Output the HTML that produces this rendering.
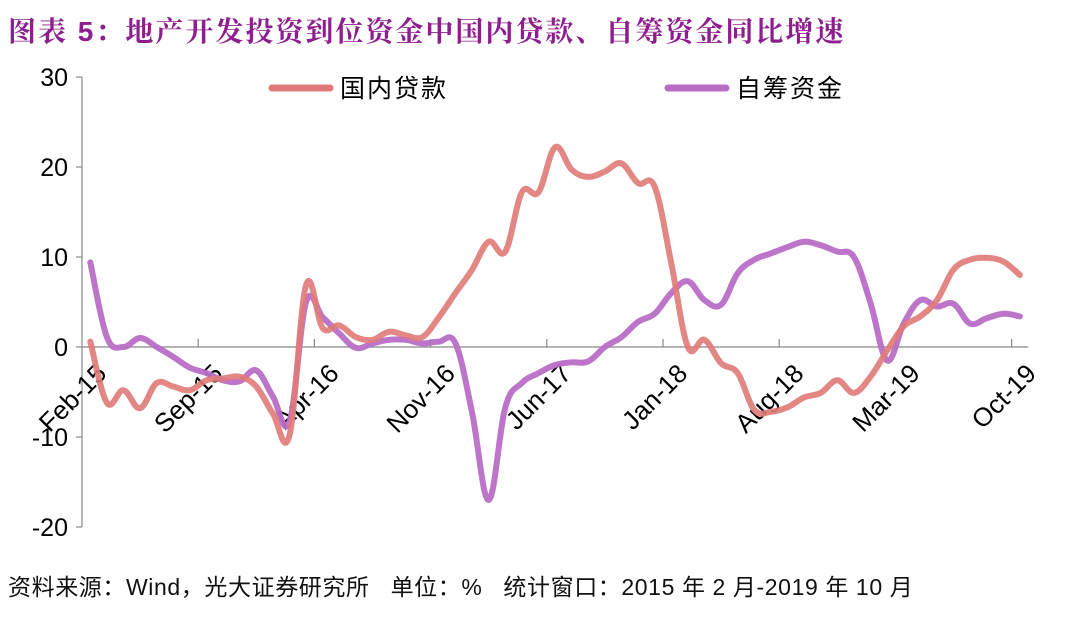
<!DOCTYPE html>
<html><head><meta charset="utf-8">
<style>
html,body{margin:0;padding:0;background:#fff;}
body{width:1080px;height:619px;overflow:hidden;position:relative;font-family:"Liberation Sans","Noto Sans CJK SC",sans-serif;}
#title{position:absolute;left:8px;top:10px;font-size:28px;font-weight:bold;color:#8e1e8e;font-family:"Liberation Sans","Noto Serif CJK SC","Noto Sans CJK SC",sans-serif;letter-spacing:2px;white-space:nowrap;}
#footer{position:absolute;left:8px;top:568px;font-size:23px;color:#111;font-family:"Liberation Sans","Noto Sans CJK SC",sans-serif;white-space:nowrap;letter-spacing:0.6px;}
</style></head><body>
<div id="title">图表 5：地产开发投资到位资金中国内贷款、自筹资金同比增速</div>
<svg id="chart" width="1080" height="619" style="position:absolute;left:0;top:0"></svg>
<div id="footer">资料来源：Wind，光大证券研究所&nbsp;&nbsp;&nbsp;单位：%&nbsp;&nbsp;&nbsp;统计窗口：2015 年 2 月-2019 年 10 月</div>
<script>
const categories = (function(){const m=["Jan","Feb","Mar","Apr","May","Jun","Jul","Aug","Sep","Oct","Nov","Dec"];const a=[];for(let i=0;i<57;i++){const t=1+i;a.push(m[t%12]+"-"+(15+Math.floor(t/12)));}return a;})();
const loanValues = [0.6,-6.2,-4.8,-6.8,-4,-4.4,-4.8,-3.7,-3.5,-3.3,-4.4,-7.4,-9.8,6.9,2.1,2.4,1.1,0.8,1.7,1.3,1.1,3.3,6,8.6,11.7,10.6,17.2,17.2,22.2,19.7,18.9,19.5,20.4,18.2,17.8,9.3,0,0.8,-1.8,-2.9,-7,-7.2,-6.7,-5.6,-5.1,-3.7,-5.1,-3.3,-0.4,2.3,3.4,5.2,8.6,9.7,9.9,9.5,8.0];
const selfValues = [9.4,1.1,0,1,0,-1.1,-2.3,-2.9,-3.7,-3.8,-2.6,-5.5,-8.3,5,3.3,1.5,-0.1,0.4,0.8,0.8,0.4,0.6,0.4,-7.3,-17,-6.7,-4,-2.9,-2,-1.7,-1.6,0,1.1,2.8,3.7,6,7.3,5.2,4.7,8.2,9.7,10.4,11.1,11.7,11.3,10.6,10,4.9,-1.5,2.6,5.2,4.5,4.8,2.6,3.2,3.7,3.4];
const yTicks = [30,20,10,0,-10,-20];
const xTickIdx = [0,7,14,21,28,35,42,49,56];
const seriesNames = ["国内贷款","自筹资金"];

const NS="http://www.w3.org/2000/svg";
const svg=document.getElementById('chart');
const x0=82, step=16.6, yZero=347, yUnit=9;
const xBound=i=>x0+i*step;
const xc=i=>x0+(i+0.5)*step;
const y=v=>yZero-v*yUnit;
function mk(tag,attrs){const e=document.createElementNS(NS,tag);for(const k in attrs)e.setAttribute(k,attrs[k]);svg.appendChild(e);return e;}

let ax=mk('line',{x1:x0,y1:y(30),x2:x0,y2:y(-20),stroke:'#888','stroke-width':1.2});


yTicks.forEach(v=>{
  const t=mk('line',{x1:x0-6,y1:y(v),x2:x0,y2:y(v),stroke:'#888','stroke-width':1.2});
  
  
  const l=mk('text',{x:x0-14,y:y(v)+9,'text-anchor':'end','font-size':25,fill:'#000'});
  l.textContent=v;
  
  
});
let xa=mk('line',{x1:x0,y1:yZero,x2:xBound(57),y2:yZero,stroke:'#888','stroke-width':1.2});


xTickIdx.forEach(i=>{
  const tx=xBound(i);
  if(i>0){const t=mk('line',{x1:tx,y1:yZero-8,x2:tx,y2:yZero,stroke:'#888','stroke-width':1.2});
  
  }
  const lx=tx+26, ly=yZero+28;
  const l=mk('text',{x:lx,y:ly,'text-anchor':'end','font-size':26,fill:'#000',transform:`rotate(-45 ${lx} ${ly})`});
  l.textContent=categories[i];
  
  
});
function smoothPath(vals){
  const p=vals.map((v,i)=>[xc(i),y(v)]);
  let d=`M${p[0][0]},${p[0][1]}`;
  for(let i=0;i<p.length-1;i++){
    const a=p[i-1]||p[i],b=p[i],c=p[i+1],e=p[i+2]||c,t=0.18;
    d+=` C${b[0]+(c[0]-a[0])*t},${b[1]+(c[1]-a[1])*t} ${c[0]-(e[0]-b[0])*t},${c[1]-(e[1]-b[1])*t} ${c[0]},${c[1]}`;
  }
  return d;
}
const red='#e07a78', purple='#b86ec6';
const pl=mk('path',{d:smoothPath(selfValues),fill:'none',stroke:purple,'stroke-width':6,'stroke-linejoin':'round','stroke-linecap':'round','stroke-opacity':0.95});


const rl=mk('path',{d:smoothPath(loanValues),fill:'none',stroke:red,'stroke-width':6,'stroke-linejoin':'round','stroke-linecap':'round','stroke-opacity':0.9});


[[272,red,seriesNames[0]],[668,purple,seriesNames[1]]].forEach(([lx,c,n],k)=>{
  const ln=mk('line',{x1:lx,y1:88,x2:lx+58,y2:88,stroke:c,'stroke-width':7,'stroke-linecap':'round'});
  
  
  const tt=mk('text',{x:lx+68,y:97,'font-size':25,fill:'#000','font-family':'"Noto Sans CJK SC",sans-serif','letter-spacing':'2'});
  tt.textContent=n;
  
  
});
</script>
</body></html>
